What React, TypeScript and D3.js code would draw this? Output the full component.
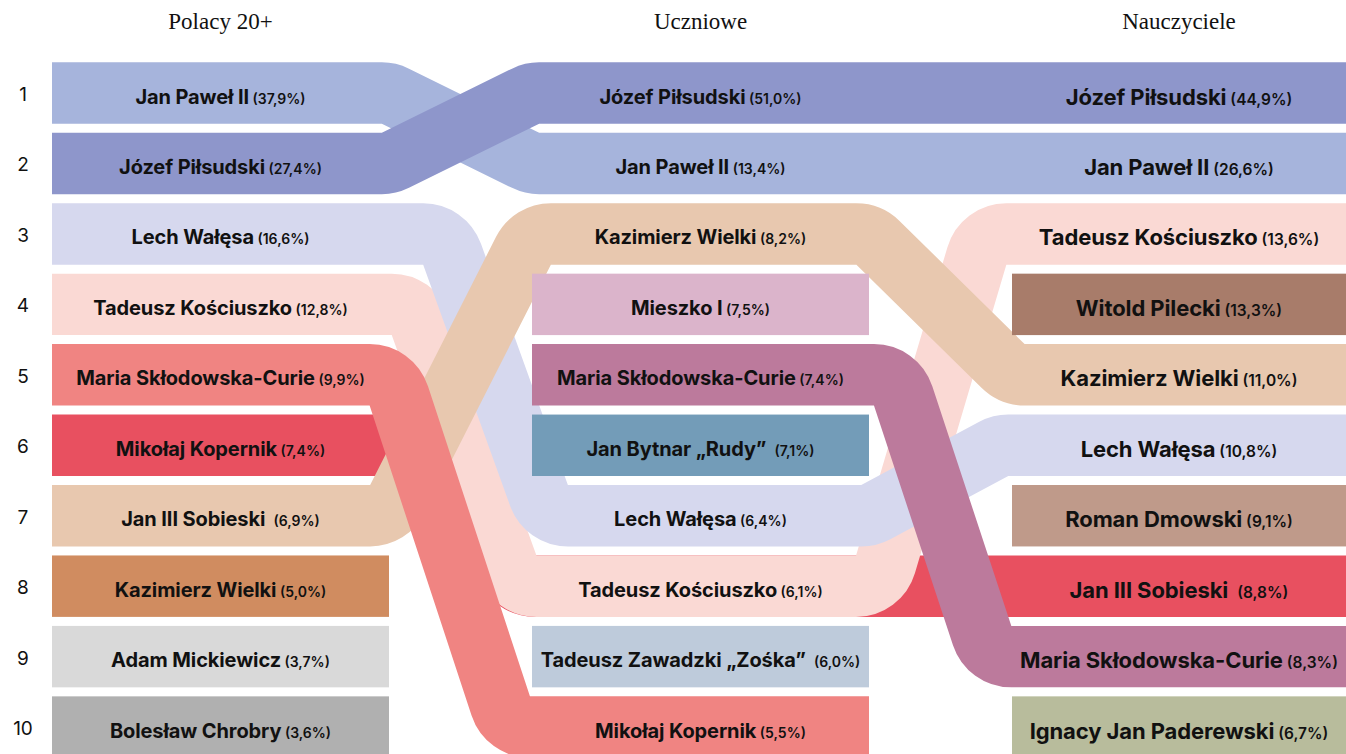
import React, { useEffect, useRef } from "react";
import * as d3 from "d3";

const width = 1346;
const height = 754;

const columns = ["Polacy 20+", "Uczniowe", "Nauczyciele"];
const ranks = [1, 2, 3, 4, 5, 6, 7, 8, 9, 10];

// Polacy 20+
const adultNames = [
  "Jan Paweł II", "Józef Piłsudski", "Lech Wałęsa", "Tadeusz Kościuszko",
  "Maria Skłodowska-Curie", "Mikołaj Kopernik", "Jan III Sobieski ",
  "Kazimierz Wielki", "Adam Mickiewicz", "Bolesław Chrobry",
];
const adultValues = [37.9, 27.4, 16.6, 12.8, 9.9, 7.4, 6.9, 5.0, 3.7, 3.6];
// colour / ribbon key of each cell, as the picture shows them
const adultKeys = [
  "jp2", "pilsudski", "walesa", "kosciuszko", "kopernik",
  "sobieski", "kazimierz", "kazimierzAlt", "mickiewicz", "chrobry",
];

// Uczniowe
const pupilNames = [
  "Józef Piłsudski", "Jan Paweł II", "Kazimierz Wielki", "Mieszko I",
  "Maria Skłodowska-Curie", "Jan Bytnar „Rudy” ", "Lech Wałęsa",
  "Tadeusz Kościuszko", "Tadeusz Zawadzki „Zośka” ", "Mikołaj Kopernik",
];
const pupilValues = [51.0, 13.4, 8.2, 7.5, 7.4, 7.1, 6.4, 6.1, 6.0, 5.5];
const pupilKeys = [
  "pilsudski", "jp2", "kazimierz", "mieszko", "curie",
  "bytnar", "walesa", "kosciuszko", "zawadzki", "kopernik",
];

// Nauczyciele
const teacherNames = [
  "Józef Piłsudski", "Jan Paweł II", "Tadeusz Kościuszko", "Witold Pilecki",
  "Kazimierz Wielki", "Lech Wałęsa", "Roman Dmowski", "Jan III Sobieski ",
  "Maria Skłodowska-Curie", "Ignacy Jan Paderewski",
];
const teacherValues = [44.9, 26.6, 13.6, 13.3, 11.0, 10.8, 9.1, 8.8, 8.3, 6.7];
const teacherKeys = [
  "pilsudski", "jp2", "kosciuszko", "pilecki", "kazimierz",
  "walesa", "dmowski", "sobieski", "curie", "paderewski",
];

const palette = {
  jp2: "#a6b4dc",
  pilsudski: "#8e96cb",
  walesa: "#d6d8ee",
  kosciuszko: "#fad9d4",
  kopernik: "#f08482",
  sobieski: "#e85060",
  kazimierz: "#e8c8af",
  kazimierzAlt: "#d08c60",
  mickiewicz: "#d9d9d9",
  chrobry: "#b0b0b0",
  mieszko: "#dbb4cb",
  curie: "#bc7a9c",
  bytnar: "#739cb8",
  zawadzki: "#becbdb",
  pilecki: "#a87c6a",
  dmowski: "#bf9a8a",
  paderewski: "#b8bc9c",
};

// drawing order of ribbons (bottom first)
const ribbonOrder = [
  "sobieski", "kosciuszko", "walesa", "kazimierz", "kopernik", "curie", "jp2", "pilsudski",
];
// where the slanted part starts / ends inside a gap (share of the gap)
const bends = {
  "walesa:0": [0.39, 1.1],
  "kosciuszko:0": [0.17, 0.88],
  "kopernik:0": [0.02, 0.83],
  "sobieski:0": [0, 0.93],
  "kosciuszko:1": [0.07, 0.8],
  "walesa:1": [0, 0.92],
  "curie:1": [0.19, 0.84],
};

const pct = d3.formatLocale({ decimal: ",", thousands: " ", grouping: [3], currency: ["", ""] }).format(".1f");

const App = () => {
  const ref = useRef(null);

  useEffect(() => {
    const svg = d3.select(ref.current);
    svg.selectAll("*").remove();

    const table = [
      [adultNames, adultValues, adultKeys],
      [pupilNames, pupilValues, pupilKeys],
      [teacherNames, teacherValues, teacherKeys],
    ];
    const cells = table.flatMap(([names, values, keys], col) =>
      names.map((name, i) => ({ col, rank: ranks[i], name, value: values[i], key: keys[i] }))
    );

    const x = d3.scaleBand().domain(d3.range(columns.length)).range([52, 1349]).paddingInner(143 / 480);
    const step = 70.45;
    const y = d3.scaleBand().domain(ranks).range([62.3 - 4.5, 62.3 - 4.5 + step * 10])
      .paddingInner(0.128).paddingOuter(0.064);
    const cw = x.bandwidth();
    const bh = y.bandwidth();
    const cy = r => y(r) + bh / 2;
    const sans = "Inter, 'Noto Sans', sans-serif";

    // ribbons
    const groups = d3.group(cells, d => d.key);
    const linked = new Set();
    ribbonOrder.forEach(key => {
      const found = (groups.get(key) || []).slice().sort((a, b) => a.col - b.col);
      if (found.length < 2) return;
      found.forEach(c => linked.add(c));
      // a ribbon that skips a column runs hidden behind it at the next rank
      const list = [];
      found.forEach((c, i) => {
        if (i > 0) {
          for (let k = found[i - 1].col + 1; k < c.col; k++) list.push({ col: k, rank: c.rank });
        }
        list.push(c);
      });
      const pts = [];
      list.forEach((c, i) => {
        if (i === 0) pts.push([x(c.col), cy(c.rank)]);
        else {
          const prev = list[i - 1];
          const g0 = x(prev.col) + cw;
          const g1 = x(c.col);
          const [f0, f1] = bends[`${key}:${prev.col}`] || [0, 1];
          pts.push([g0 + f0 * (g1 - g0), cy(prev.rank)]);
          pts.push([g0 + f1 * (g1 - g0), cy(c.rank)]);
        }
        if (i === list.length - 1) pts.push([x(c.col) + cw, cy(c.rank)]);
      });
      const p = d3.path();
      p.moveTo(pts[0][0], pts[0][1]);
      for (let i = 1; i < pts.length - 1; i++) {
        p.arcTo(pts[i][0], pts[i][1], pts[i + 1][0], pts[i + 1][1], bh / 2);
      }
      p.lineTo(pts[pts.length - 1][0], pts[pts.length - 1][1]);
      svg.append("path")
        .attr("d", p.toString())
        .attr("fill", "none")
        .attr("stroke", palette[key])
        .attr("stroke-width", bh)
        .attr("stroke-linecap", "butt")
        .attr("stroke-linejoin", "round");
    });

    // single bars
    svg.append("g")
      .selectAll("rect")
      .data(cells.filter(c => !linked.has(c)))
      .join("rect")
      .attr("x", d => x(d.col))
      .attr("y", d => y(d.rank))
      .attr("width", cw)
      .attr("height", bh)
      .attr("fill", d => palette[d.key]);

    // labels
    const label = svg.append("g")
      .selectAll("text")
      .data(cells)
      .join("text")
      .attr("x", d => (x(d.col) + Math.min(x(d.col) + cw, width)) / 2)
      .attr("y", d => cy(d.rank) + (d.col === 2 ? 11.5 : 10.5))
      .attr("text-anchor", "middle")
      .attr("font-family", sans)
      .attr("fill", "#111")
      .style("white-space", "pre");
    label.append("tspan")
      .attr("font-weight", 700)
      .attr("font-size", d => (d.col === 2 ? 22 : 20))
      .attr("letter-spacing", -0.1)
      .text(d => d.name);
    label.append("tspan")
      .attr("font-weight", 600)
      .attr("font-size", d => (d.col === 2 ? 15.5 : 14))
      .text(d => ` (${pct(d.value)}%)`);

    // row numbers
    svg.append("g")
      .selectAll("text")
      .data(ranks)
      .join("text")
      .attr("x", 23)
      .attr("y", d => cy(d) + 8)
      .attr("text-anchor", "middle")
      .attr("font-family", sans)
      .attr("font-size", 19)
      .attr("fill", "#111")
      .text(d => d);

    // column headers
    svg.append("g")
      .selectAll("text")
      .data(columns)
      .join("text")
      .attr("x", (d, i) => (x(i) + Math.min(x(i) + cw, width)) / 2)
      .attr("y", 29)
      .attr("text-anchor", "middle")
      .attr("font-family", "'Liberation Serif', serif")
      .attr("font-size", 23)
      .attr("fill", "#111")
      .text(d => d);
  }, []);

  return (
    <svg
      ref={ref}
      width={width}
      height={height}
      style={{ position: "absolute", left: 0, top: 0, background: "#fff" }}
    ></svg>
  );
};

export default App;
